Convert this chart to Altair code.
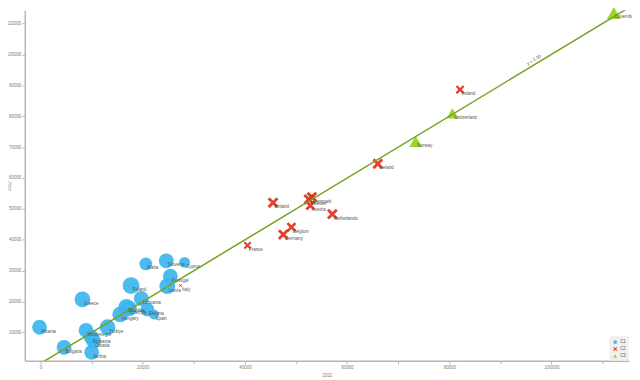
import altair as alt
import pandas as pd

countries = ["Albania", "Bulgaria", "Serbia", "Greece", "Montenegro", "Romania", "Croatia",
             "Türkiye", "Hungary", "Slovakia", "Czechia", "Poland", "Lithuania", "Estonia",
             "Spain", "Malta", "Slovenia", "Cyprus", "Portugal", "Latvia",
             "Italy", "France", "Finland", "Germany", "Belgium", "Sweden", "Denmark", "Austria",
             "Netherlands", "Iceland", "Ireland",
             "Norway", "Switzerland", "Luxembourg"]
v2021 = [-200, 4600, 10000, 8200, 8900, 9900, 10400,
         13100, 15600, 16800, 17300, 17700, 19700, 20900,
         22200, 20600, 24600, 28200, 25400, 24800,
         27400, 40500, 45500, 47500, 49100, 52500, 53100, 52800,
         57100, 66000, 82100,
         73400, 80600, 112200]
v2022 = [11700, 5200, 3600, 20700, 10700, 8500, 7200,
         11700, 15850, 18300, 17800, 25200, 21000, 17400,
         15800, 32200, 33200, 32700, 28200, 25000,
         25200, 38200, 52000, 41700, 44100, 53100, 53800, 51100,
         48300, 64600, 88600,
         71800, 80900, 113400]
cluster = ["C1"] * 20 + ["C2"] * 11 + ["C3"] * 3
weight = [15, 15, 15, 16, 15, 15, 15,
          16, 16, 16, 16, 17, 15, 14,
          10, 13, 15, 11, 15, 16,
          3, 8, 11, 11, 10, 11, 11, 10,
          11, 11, 9,
          13, 12, 14]

fit_x = [0, 120000]
fit_y = [0, 120000]
fit_label = "y = 1.00"

df = pd.DataFrame({"country": countries, "x": v2021, "y": v2022,
                   "cluster": cluster, "w": weight})
fit = pd.DataFrame({"x": fit_x, "y": fit_y})
lab = pd.DataFrame({"x": [97000], "y": [97000], "t": [fit_label]})

FONT = "Liberation Sans"
xs = alt.Scale(domain=[-3090, 115170], nice=False, zero=False)
ys = alt.Scale(domain=[830, 114250], nice=False, zero=False)

xpath = ("M-1,-0.62L-0.62,-1L0,-0.38L0.62,-1L1,-0.62L0.38,0L1,0.62L0.62,1"
         "L0,0.38L-0.62,1L-1,0.62L-0.38,0Z")

xaxis = alt.Axis(values=list(range(0, 120000, 10000)),
                 labelExpr="datum.value % 20000 == 0 ? datum.label : ''",
                 format="d", titlePadding=3)
yaxis = alt.Axis(values=list(range(10000, 120000, 10000)), format="d", titleX=-13)

base = alt.Chart(df)
points = base.mark_point(filled=True, opacity=0.92).encode(
    x=alt.X("x:Q", scale=xs, axis=xaxis, title="2021"),
    y=alt.Y("y:Q", scale=ys, axis=yaxis, title="2022"),
    color=alt.Color("cluster:N", title=None,
                    scale=alt.Scale(domain=["C1", "C2", "C3"],
                                    range=["#3cb5ef", "#e3301b", "#94d11a"]),
                    legend=alt.Legend(orient="bottom-right", offset=0, padding=3,
                                      fillColor="#f0f0f0", cornerRadius=2,
                                      symbolSize=16, labelFontSize=4.5,
                                      labelFont=FONT, labelColor="#666",
                                      rowPadding=2, labelOffset=2)),
    shape=alt.Shape("cluster:N", title=None,
                    scale=alt.Scale(domain=["C1", "C2", "C3"],
                                    range=["circle", xpath, "triangle-up"])),
    size=alt.Size("w:Q", legend=None,
                  scale=alt.Scale(type="pow", exponent=2, domain=[0, 10], range=[0, 100])),
)

labels = base.mark_text(align="left", baseline="middle", dx=1.5, dy=4.5,
                        fontSize=4.5, font=FONT, color="#555").encode(
    x=alt.X("x:Q", scale=xs, axis=xaxis, title="2021"),
    y=alt.Y("y:Q", scale=ys, axis=yaxis, title="2022"), text="country:N")

line = alt.Chart(fit).mark_line(color="#74a21f", strokeWidth=1.5, clip=True).encode(
    x=alt.X("x:Q", scale=xs, axis=xaxis, title="2021"),
    y=alt.Y("y:Q", scale=ys, axis=yaxis, title="2022"))

line_label = alt.Chart(lab).mark_text(angle=328.8, baseline="bottom", dy=-2,
                                      fontSize=4.5, font=FONT, color="#555").encode(
    x=alt.X("x:Q", scale=xs, axis=xaxis, title="2021"),
    y=alt.Y("y:Q", scale=ys, axis=yaxis, title="2022"), text="t:N")

chart = alt.layer(points, line, labels, line_label).properties(
    width=612, height=355,
    autosize=alt.AutoSizeParams(type="none"),
    padding={"left": 17, "top": 0, "right": 3, "bottom": 17},
).configure_view(stroke=None).configure_axis(
    grid=False, domainColor="#b5b5b5", domainWidth=1.5,
    tickColor="#b5b5b5", tickSize=3, labelFontSize=4.5,
    labelColor="#7d7d6a", labelFont=FONT, labelPadding=1,
    labelOverlap=False, labelFlush=False,
    titleFontSize=4.5, titleColor="#7d7d6a", titleFont=FONT,
    titleFontWeight="normal",
)

chart.save("out.html", embed_options={"renderer": "svg", "actions": False})
